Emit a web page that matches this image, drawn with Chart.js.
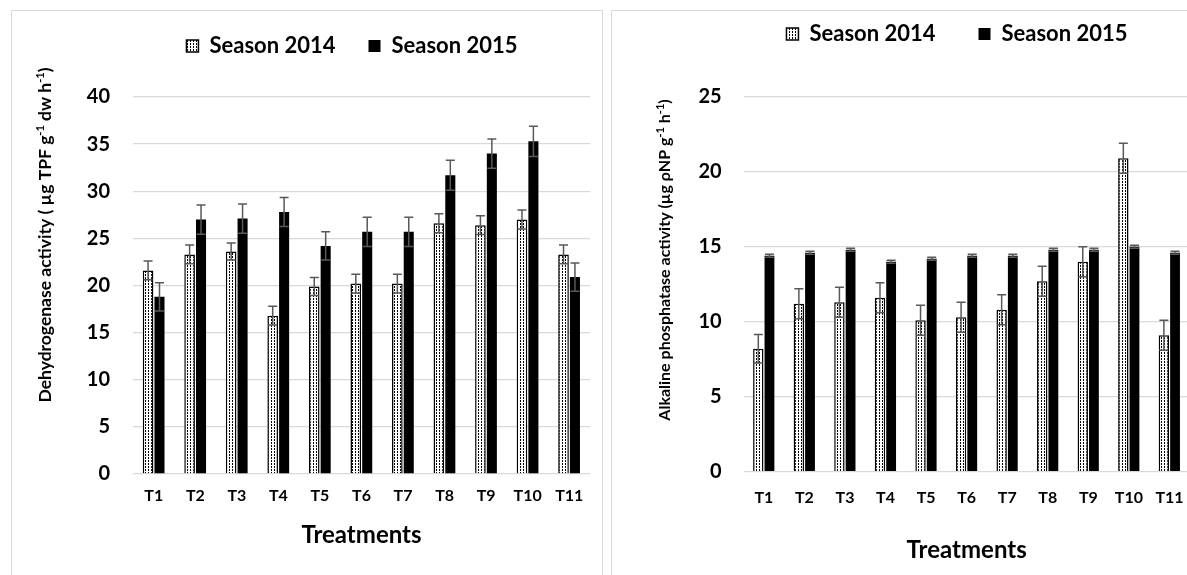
<!DOCTYPE html>
<html>
<head>
<meta charset="utf-8">
<script src="https://cdn.jsdelivr.net/npm/chart.js@4.4.1/dist/chart.umd.min.js"></script>
<style>
  html, body { margin: 0; padding: 0; background: #fff; overflow: hidden; }
  body { width: 1187px; height: 575px; position: relative; }
  .panel { position: absolute; border: 1px solid #d9d9d9; box-sizing: border-box; }
  canvas { position: absolute; }
</style>
</head>
<body>
<div class="panel" style="left:11px; top:10px; width:592px; height:580px;"></div>
<div class="panel" style="left:611px; top:10px; width:600px; height:580px;"></div>
<canvas id="dehChart" style="left:0; top:0; width:602px; height:575px;"></canvas>
<canvas id="alpChart" style="left:611px; top:-30px; width:590px; height:605px;"></canvas>
<script>
const treatments = ["T1", "T2", "T3", "T4", "T5", "T6", "T7", "T8", "T9", "T10", "T11"];
const seriesNames = ["Season 2014", "Season 2015"];

// dehydrogenase (left)
const deh2014 = [21.6, 23.3, 23.6, 16.8, 19.9, 20.2, 20.2, 26.6, 26.4, 27.0, 23.3];
const deh2015 = [18.8, 27.0, 27.1, 27.8, 24.2, 25.7, 25.7, 31.7, 34.0, 35.3, 20.9];
const dehErr2014 = [1.0, 1.0, 0.9, 1.0, 0.95, 1.0, 1.0, 1.0, 1.0, 1.0, 1.0];
const dehErr2015 = [1.5, 1.55, 1.55, 1.55, 1.5, 1.55, 1.55, 1.6, 1.55, 1.6, 1.5];
const dehTicks = [0, 5, 10, 15, 20, 25, 30, 35, 40];

// alkaline phosphatase (right)
const alp2014 = [8.2, 11.2, 11.3, 11.6, 10.1, 10.3, 10.8, 12.7, 14.0, 20.9, 9.1];
const alp2015 = [14.4, 14.6, 14.8, 14.0, 14.2, 14.4, 14.4, 14.8, 14.8, 15.0, 14.6];
const alpErr2014 = [0.95, 1.0, 1.0, 1.0, 1.0, 1.0, 1.0, 1.0, 1.0, 1.0, 1.0];
const alpErr2015 = [0.1, 0.1, 0.1, 0.1, 0.1, 0.1, 0.1, 0.1, 0.1, 0.1, 0.1];
const alpTicks = [0, 5, 10, 15, 20, 25];

const FONT = "Lato, 'Liberation Sans', sans-serif";

function dottedPattern() {
    const c = document.createElement("canvas");
    c.width = 3; c.height = 3;
    const g = c.getContext("2d");
    g.fillStyle = "#fff";
    g.fillRect(0, 0, 3, 3);
    g.fillStyle = "#000";
    g.fillRect(1, 1, 1, 2);
    return g.createPattern(c, "repeat");
}

// vertical error bars, both directions
const errorBars = {
    id: "errorBars",
    afterDatasetsDraw(chart, args, opts) {
        const ctx = chart.ctx;
        const y = chart.scales.y;
        ctx.save();
        ctx.strokeStyle = "#595959";
        ctx.lineWidth = 1.5;
        chart.data.datasets.forEach((ds, i) => {
            const meta = chart.getDatasetMeta(i);
            const errs = opts.errors[i];
            meta.data.forEach((bar, j) => {
                const v = ds.data[j], e = errs[j];
                const top = y.getPixelForValue(v + e);
                const bot = y.getPixelForValue(v - e);
                ctx.beginPath();
                ctx.moveTo(bar.x, top); ctx.lineTo(bar.x, bot);
                ctx.moveTo(bar.x - 4.5, top); ctx.lineTo(bar.x + 4.5, top);
                ctx.moveTo(bar.x - 4.5, bot); ctx.lineTo(bar.x + 4.5, bot);
                ctx.stroke();
            });
        });
        ctx.restore();
    }
};

// rotated y title with superscripts
const yTitle = {
    id: "yTitle",
    afterDraw(chart, args, opts) {
        const ctx = chart.ctx;
        const big = "bold " + opts.size + "px " + FONT, small = "bold 11px " + FONT;
        ctx.save();
        ctx.fillStyle = "#000";
        ctx.textBaseline = "middle";
        ctx.textAlign = "left";
        let total = 0;
        opts.parts.forEach(p => { ctx.font = p.sup ? small : big; total += ctx.measureText(p.t).width; });
        ctx.translate(opts.x, opts.y);
        ctx.rotate(-Math.PI / 2);
        let x = -total / 2;
        opts.parts.forEach(p => {
            ctx.font = p.sup ? small : big;
            ctx.fillText(p.t, x, p.sup ? -5 : 0);
            x += ctx.measureText(p.t).width;
        });
        ctx.restore();
    }
};

// legend: fixed height (gap to plot) and fixed horizontal span
const legendBox = {
    id: "legendBox",
    beforeInit(chart, args, opts) {
        const fit = chart.legend.fit;
        chart.legend.fit = function () {
            fit.call(this);
            this.height = opts.height;
        };
    },
    afterLayout(chart, args, opts) {
        chart.legend.left = opts.left;
        chart.legend.right = opts.right;
        chart.legend.width = opts.right - opts.left;
    }
};

function makeChart(id, d2014, d2015, errs, ticks, g) {
    const ctx = document.getElementById(id).getContext("2d");
    return new Chart(ctx, {
        type: "bar",
        data: {
            labels: treatments,
            datasets: [{
                label: seriesNames[0],
                data: d2014,
                backgroundColor: dottedPattern(),
                borderColor: "#000",
                borderWidth: 1.5,
                categoryPercentage: 0.55,
                barPercentage: 0.93
            }, {
                label: seriesNames[1],
                data: d2015,
                backgroundColor: "#000",
                borderWidth: 0,
                categoryPercentage: 0.55,
                barPercentage: 0.88
            }]
        },
        options: {
            responsive: false,
            animation: false,
            devicePixelRatio: 1,
            layout: { padding: g.padding },
            scales: {
                x: {
                    grid: { display: false, drawTicks: false },
                    border: { display: false },
                    ticks: { color: "#000", padding: g.xPad, font: { family: FONT, size: 16, weight: "bold" } },
                    title: { display: true, text: "Treatments", color: "#000", padding: 0, font: { family: FONT, size: 24, weight: "bold" } },
                    afterFit: s => { s.height = g.xHeight; }
                },
                y: {
                    min: ticks[0],
                    max: ticks[ticks.length - 1],
                    afterBuildTicks: s => { s.ticks = ticks.map(v => ({ value: v })); },
                    grid: { color: "#d9d9d9", lineWidth: 1.3, drawTicks: false },
                    border: { display: false },
                    ticks: { color: "#000", padding: g.yPad, font: { family: FONT, size: 20, weight: "bold" } },
                    afterFit: s => { s.width = g.yWidth; }
                }
            },
            plugins: {
                legend: {
                    position: "top",
                    labels: {
                        color: "#000",
                        boxWidth: 12,
                        boxHeight: 12,
                        padding: g.legendPad,
                        font: { family: FONT, size: 22, weight: "bold" }
                    }
                },
                tooltip: { enabled: false },
                errorBars: { errors: errs },
                yTitle: g.title,
                legendBox: g.legend
            }
        },
        plugins: [errorBars, yTitle, legendBox]
    });
}

function sizeCanvas(id) {
    const c = document.getElementById(id);
    c.width = parseInt(c.style.width);
    c.height = parseInt(c.style.height);
}
sizeCanvas("dehChart");
sizeCanvas("alpChart");

makeChart("dehChart", deh2014, deh2015, [dehErr2014, dehErr2015], dehTicks, {
    padding: { left: 60, right: 12, top: 2, bottom: 25.6 },
    yWidth: 73, yPad: 23, xPad: 12, xHeight: 75.4,
    legendPad: 33,
    legend: { height: 95, left: 114, right: 590 },
    title: { x: 45, y: 235, size: 17.5, parts: [
        { t: "Dehydrogenase activity ( µg TPF g" }, { t: "-1", sup: true },
        { t: " dw h" }, { t: "-1", sup: true }, { t: ")" }] }
});

makeChart("alpChart", alp2014, alp2015, [alpErr2014, alpErr2015], alpTicks, {
    padding: { left: 50, right: 10, top: 10, bottom: 10.6 },
    yWidth: 82.6, yPad: 22, xPad: 17, xHeight: 92.7,
    legendPad: 43,
    legend: { height: 116.7, left: 112, right: 580 },
    title: { x: 54, y: 290, size: 16, parts: [
        { t: "Alkaline phosphatase activity (µg ρNP g" }, { t: "-1", sup: true },
        { t: " h" }, { t: "-1", sup: true }, { t: ")" }] }
});
</script>
</body>
</html>
